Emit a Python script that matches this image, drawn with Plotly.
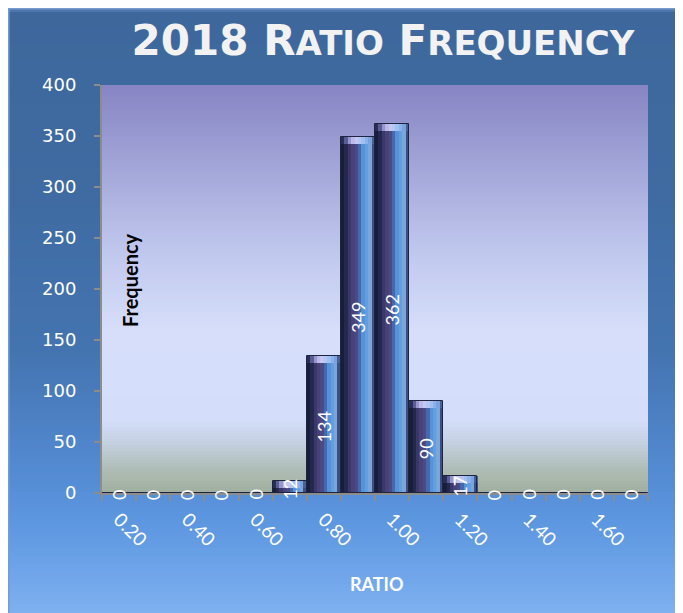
import plotly.graph_objects as go

# ---------------- data ----------------
ratio_bins = [0.2, 0.3, 0.4, 0.5, 0.6, 0.7, 0.8, 0.9, 1.0, 1.1, 1.2, 1.3, 1.4, 1.5, 1.6, 1.7]
frequency = [0, 0, 0, 0, 0, 12, 134, 349, 362, 90, 17, 0, 0, 0, 0, 0]
tick_positions = [0.2, 0.4, 0.6, 0.8, 1.0, 1.2, 1.4, 1.6]
tick_labels = ["0.20", "0.40", "0.60", "0.80", "1.00", "1.20", "1.40", "1.60"]
y_ticks = [0, 50, 100, 150, 200, 250, 300, 350, 400]

# ---------------- geometry / style ----------------
W, H = 683, 613
OFF = 8  # page body margin
# plot area in screen pixels: x 102..648, y 85..493
ML = 102 - OFF
MT = 85 - OFF
MR = W - (648 - OFF)
MB = H - (493 - OFF)
PW, PH = W - ML - MR, H - MT - MB
BIN_W = 0.1


def px_x(sx):
    return (sx - OFF - ML) / PW


def px_y(sy):
    return (H - MB - (sy - OFF)) / PH


def lerp_color(stops, sy):
    for (y0, c0), (y1, c1) in zip(stops, stops[1:]):
        if y0 <= sy <= y1:
            t = (sy - y0) / (y1 - y0) if y1 > y0 else 0
            return "rgb(%d,%d,%d)" % tuple(round(a + (b - a) * t) for a, b in zip(c0, c1))
    c = stops[0][1] if sy < stops[0][0] else stops[-1][1]
    return "rgb(%d,%d,%d)" % c


shapes = []

# outer blue panel gradient (screen y)
panel_stops = [(8, (92, 132, 190)), (12, (62, 104, 156)), (200, (63, 107, 162)),
               (350, (68, 116, 176)), (450, (80, 134, 204)), (520, (92, 150, 224)),
               (625, (130, 180, 242))]
step = 4
sy = 8
while sy < H + OFF:
    shapes.append(dict(type="rect", xref="paper", yref="paper", layer="below",
                       x0=px_x(OFF - 2), x1=px_x(W + OFF + 2),
                       y0=px_y(sy + step + 0.6), y1=px_y(sy),
                       fillcolor=lerp_color(panel_stops, sy + step / 2), line=dict(width=0)))
    sy += step
shapes.append(dict(type="rect", xref="paper", yref="paper", layer="below",
                   x0=px_x(OFF + 0.8), x1=px_x(W + OFF + 4), y0=px_y(H + OFF + 4), y1=px_y(OFF + 0.8),
                   fillcolor="rgba(0,0,0,0)", line=dict(color="rgb(120,155,205)", width=1.5)))

# plot area gradient (screen y)
plot_stops = [(85, (135, 132, 196)), (160, (160, 163, 214)), (250, (192, 199, 237)),
              (330, (214, 222, 250)), (420, (212, 222, 250)), (440, (198, 210, 228)),
              (468, (176, 190, 184)), (493, (160, 174, 158))]
step = 3
sy = 85
while sy < 493:
    shapes.append(dict(type="rect", xref="paper", yref="paper", layer="below",
                       x0=0, x1=1, y0=max(px_y(sy + step + 0.6), 0), y1=px_y(sy),
                       fillcolor=lerp_color(plot_stops, sy + step / 2), line=dict(width=0)))
    sy += step

# ---------------- bars (cylinder-like shading as vertical stripes) ----------------
stripe_colors = [(24, 30, 58), (34, 40, 78), (58, 56, 104), (72, 66, 120), (76, 74, 132),
                 (70, 104, 172), (88, 146, 214), (98, 158, 226), (122, 166, 218), (58, 80, 132)]
cap_colors = [(40, 46, 86), (90, 92, 150), (150, 150, 205), (185, 185, 236), (196, 200, 242),
              (182, 198, 242), (160, 192, 242), (140, 178, 236), (122, 162, 222), (70, 96, 152)]
n = len(stripe_colors)
cap_h = 7
cap_base = [max(v - cap_h, 0) for v in frequency]
cap_len = [min(cap_h, v) for v in frequency]

fig = go.Figure()
for i, c in enumerate(stripe_colors):
    fig.add_trace(go.Bar(x=ratio_bins, y=frequency, width=BIN_W / n * 1.05,
                         offset=-BIN_W / 2 + i * BIN_W / n,
                         marker=dict(color="rgb(%d,%d,%d)" % c, line=dict(width=0)),
                         hoverinfo="skip", showlegend=False))
for i, c in enumerate(cap_colors):
    fig.add_trace(go.Bar(x=ratio_bins, y=cap_len, base=cap_base, width=BIN_W / n * 1.05,
                         offset=-BIN_W / 2 + i * BIN_W / n,
                         marker=dict(color="rgb(%d,%d,%d)" % c, line=dict(width=0)),
                         hoverinfo="skip", showlegend=False))
fig.add_trace(go.Bar(x=ratio_bins, y=frequency, width=BIN_W,
                     marker=dict(color="rgba(0,0,0,0)", line=dict(color="rgb(30,36,62)", width=1)),
                     hovertemplate="%{x:.2f}: %{y}<extra></extra>", showlegend=False))

# data labels
annotations = []
for x, v in zip(ratio_bins, frequency):
    annotations.append(dict(x=x, y=v / 2, xref="x", yref="y", text=str(v), textangle=-90,
                            showarrow=False, yshift=-2, xanchor="center", yanchor="middle",
                            font=dict(family="Lato", size=18, color="white")))

annotations.append(dict(x=px_x(130), y=px_y(280), xref="paper", yref="paper", text="Frequency",
                        textangle=-90, showarrow=False, xanchor="center", yanchor="middle",
                        font=dict(family="Lato", size=20, color="black", weight="bold")))
annotations.append(dict(x=px_x(377), y=px_y(584), xref="paper", yref="paper", text="RATIO",
                        showarrow=False, xanchor="center", yanchor="middle",
                        font=dict(family="Lato", size=18, color="white", weight="bold")))

title_text = ("2018 R<span style='font-size:34px'>ATIO</span> "
              "F<span style='font-size:34px'>REQUENCY</span>")

fig.update_layout(
    width=W, height=H,
    margin=dict(l=ML, r=MR, t=MT, b=MB, pad=0),
    paper_bgcolor="rgb(70,118,180)",
    plot_bgcolor="rgba(0,0,0,0)",
    barmode="overlay",
    bargap=0,
    shapes=shapes,
    annotations=annotations,
    title=dict(text=title_text, x=(383 - OFF) / W, xanchor="center", xref="container",
               y=1 - (40 - OFF) / H, yanchor="middle", yref="container",
               font=dict(family="DejaVu Sans", size=42, color="rgb(242,242,242)", weight="bold")),
    xaxis=dict(range=[ratio_bins[0] - BIN_W / 2, ratio_bins[-1] + BIN_W / 2],
               tickvals=tick_positions, ticktext=tick_labels, tickangle=45,
               ticks="", showgrid=False, zeroline=False,
               showline=True, linecolor="rgb(140,140,140)", linewidth=2,
               tickfont=dict(family="Lato", size=19, color="white"),
               ticklabelstandoff=6,
               minor=dict(ticks="outside", tick0=ratio_bins[0] - BIN_W / 2, dtick=BIN_W,
                          ticklen=6, tickcolor="rgb(140,140,140)", tickwidth=2, showgrid=False)),
    yaxis=dict(range=[0, 400], tickvals=y_ticks, ticks="outside", ticklen=6,
               tickcolor="rgb(140,140,140)", tickwidth=2, showgrid=False, zeroline=False,
               showline=True, linecolor="rgb(140,140,140)", linewidth=2,
               tickfont=dict(family="DejaVu Sans", size=18, color="white"),
               ticklabelstandoff=14),
)

fig.write_html("out.html")
